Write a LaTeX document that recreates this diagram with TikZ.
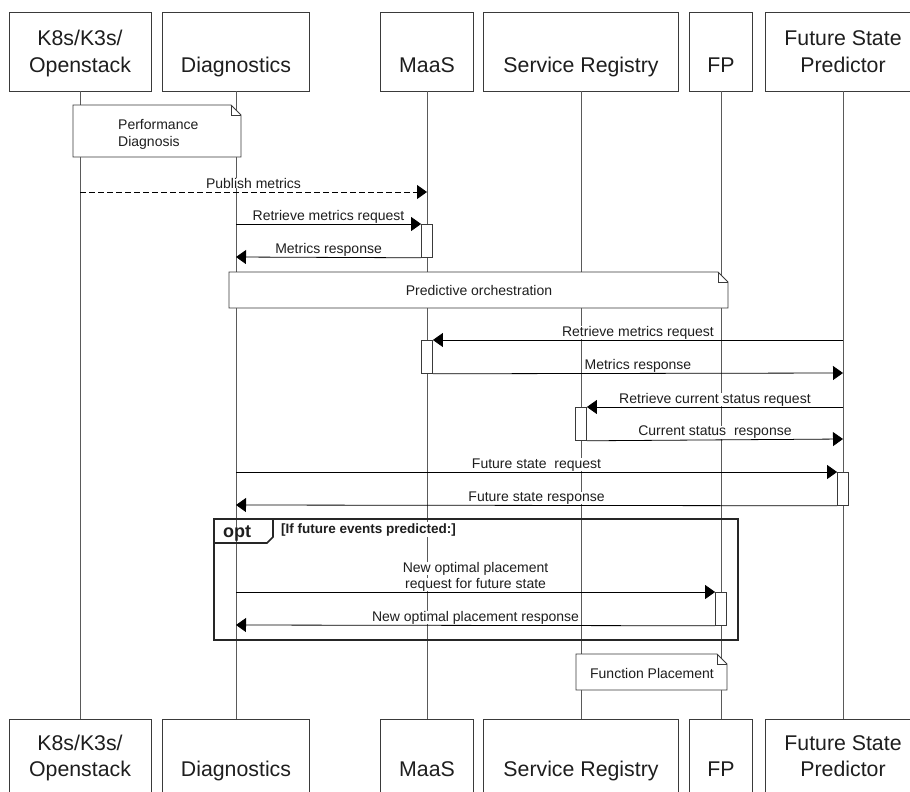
\documentclass[tikz,border=0pt]{standalone}
\usepackage{fontspec}
\setmainfont{Liberation Sans}
\usetikzlibrary{arrows.meta}

\definecolor{boxline}{HTML}{3A3A3A}
\definecolor{lifegray}{HTML}{5A5A5A}
\definecolor{txt}{HTML}{1E1E1E}

\newcommand{\hdrfont}{\fontsize{21.3pt}{26pt}\selectfont}
\newcommand{\msgfont}{\fontsize{14pt}{16pt}\selectfont}
\newcommand{\optfont}{\fontsize{18pt}{20pt}\selectfont\bfseries}
\newcommand{\condfont}{\fontsize{13.5pt}{15pt}\selectfont\bfseries}

% note with a folded top-right corner: x1, y1, x2, y2
\newcommand{\drawnote}[4]{%
  \draw[noteline, fill=white] (#1,#2) -- ({#3-10},#2) -- (#3,{#2+10}) -- (#3,#4) -- (#1,#4) -- cycle;
  \draw[noteline] ({#3-10},#2) -- ({#3-10},{#2+10}) -- (#3,{#2+10});}

\begin{document}
\begin{tikzpicture}[x=1pt,y=-1pt,
  part/.style={draw=boxline, fill=white, line width=0.9pt, minimum height=79pt, inner sep=0pt},
  parttxt/.style={font=\hdrfont, text=txt, anchor=base, inner sep=0pt},
  lifeline/.style={draw=lifegray, line width=1pt},
  msg/.style={draw=black, line width=0.8pt, -{Triangle[length=10pt,width=14pt]}},
  async/.style={msg, dash pattern=on 6pt off 3pt},
  msglbl/.style={font=\msgfont, text=txt, fill=white, inner xsep=1pt, inner ysep=0pt, anchor=base, yshift=4pt},
  act/.style={draw=boxline, fill=white, line width=0.8pt, minimum width=11pt, minimum height=33pt, inner sep=0pt, anchor=north},
  noteline/.style={draw=boxline, line width=0.8pt},
  notetxt/.style={font=\msgfont, text=txt, inner sep=0pt},
  frame/.style={draw=black!85, line width=1.6pt},
]
\useasboundingbox (0,0) rectangle (910,792);
\clip (0,0) rectangle (910,792);
\fill[white] (0,0) rectangle (910,792);

% ---- participants, top row
\node[part, minimum width=142pt] (kT) at (80,51.5) {};
\node[part, minimum width=147pt] (dT) at (236,51.5) {};
\node[part, minimum width=93pt]  (mT) at (427,51.5) {};
\node[part, minimum width=195pt] (sT) at (581,51.5) {};
\node[part, minimum width=63pt]  (fT) at (721,51.5) {};
\node[part, minimum width=156pt] (pT) at (843,51.5) {};
\node[parttxt] (kT1) at (80,46) {K8s/K3s/};
\node[parttxt] (kT2) at (80,72) {Openstack};
\node[parttxt] (dT1) at (236,72) {Diagnostics};
\node[parttxt] (mT1) at (427,72) {MaaS};
\node[parttxt] (sT1) at (581,72) {Service Registry};
\node[parttxt] (fT1) at (721,72) {FP};
\node[parttxt] (pT1) at (843,46) {Future State};
\node[parttxt] (pT2) at (843,72) {Predictor};

% ---- participants, bottom row
\node[part, minimum width=142pt] (kB) at (80,758.5) {};
\node[part, minimum width=147pt] (dB) at (236,758.5) {};
\node[part, minimum width=93pt]  (mB) at (427,758.5) {};
\node[part, minimum width=195pt] (sB) at (581,758.5) {};
\node[part, minimum width=63pt]  (fB) at (721,758.5) {};
\node[part, minimum width=156pt] (pB) at (843,758.5) {};
\node[parttxt] (kB1) at (80,750) {K8s/K3s/};
\node[parttxt] (kB2) at (80,776) {Openstack};
\node[parttxt] (dB1) at (236,776) {Diagnostics};
\node[parttxt] (mB1) at (427,776) {MaaS};
\node[parttxt] (sB1) at (581,776) {Service Registry};
\node[parttxt] (fB1) at (721,776) {FP};
\node[parttxt] (pB1) at (843,750) {Future State};
\node[parttxt] (pB2) at (843,776) {Predictor};

% ---- lifelines
\draw[lifeline] (kT) -- (kB);
\draw[lifeline] (dT) -- (dB);
\draw[lifeline] (mT) -- (mB);
\draw[lifeline] (sT) -- (sB);
\draw[lifeline] (fT) -- (fB);
\draw[lifeline] (pT) -- (pB);

% ---- opt fragment
\draw[frame] (214,519) rectangle (738,640);
\draw[frame] (214,543) -- (267,543) -- (273,537) -- (273,519);
\node[font=\optfont, text=txt, anchor=base west, inner sep=0pt] (optL) at (223,537) {opt};
\node[font=\condfont, text=txt, fill=white, inner sep=1pt, anchor=base west] (optC) at (280,533) {[If future events predicted:]};

% ---- notes
\drawnote{73}{105}{241}{157}
\node[notetxt, anchor=base west] (n1a) at (118,129) {Performance};
\node[notetxt, anchor=base west] (n1b) at (118,146) {Diagnosis};
\drawnote{229}{272}{728}{308}
\node[notetxt, anchor=base] (n2) at (479,295) {Predictive orchestration};
\drawnote{576}{654}{727}{690}
\node[notetxt, anchor=base] (n3) at (652,678) {Function Placement};

% ---- activation bars
\node[act] (aM1) at (427,224) {};
\node[act] (aM2) at (427,340) {};
\node[act] (aS1) at (581,407) {};
\node[act] (aP1) at (843,472) {};
\node[act] (aF1) at (721,592) {};

% ---- lifeline anchor points for messages
\coordinate (k192) at (80,192);
\coordinate (m192) at (427,192);
\coordinate (d224) at (236,224);
\coordinate (d257) at (236,257);
\coordinate (p340) at (843,340);
\coordinate (p373) at (843,373);
\coordinate (p407) at (843,407);
\coordinate (p439) at (843,439);
\coordinate (d472) at (236,472);
\coordinate (d505) at (236,505);
\coordinate (d592) at (236,592);
\coordinate (d625) at (236,625);

% ---- messages
\draw[async] (k192) -- (m192) node[msglbl, midway] (l1) {Publish metrics};
\draw[msg] (d224) -- (aM1.north west) node[msglbl, midway] (l2) {Retrieve metrics request};
\draw[msg] (aM1.south west) -- (d257) node[msglbl, midway] (l3) {Metrics response};
\draw[msg] (p340) -- (aM2.north east) node[msglbl, midway] (l4) {Retrieve metrics request};
\draw[msg] (aM2.south east) -- (p373) node[msglbl, midway] (l5) {Metrics response};
\draw[msg] (p407) -- (aS1.north east) node[msglbl, midway] (l6) {Retrieve current status request};
\draw[msg] (aS1.south east) -- (p439) node[msglbl, midway] (l7) {Current status\ \ response};
\draw[msg] (d472) -- (aP1.north west) node[msglbl, midway] (l8) {Future state\ \ request};
\draw[msg] (aP1.south west) -- (d505) node[msglbl, midway] (l9) {Future state response};
\draw[msg] (d592) -- (aF1.north west)
  node[msglbl, midway] (l10b) {request for future state}
  node[msglbl, midway, yshift=16pt] (l10a) {New optimal placement};
\draw[msg] (aF1.south west) -- (d625) node[msglbl, midway] (l11) {New optimal placement response};
\end{tikzpicture}
\end{document}
